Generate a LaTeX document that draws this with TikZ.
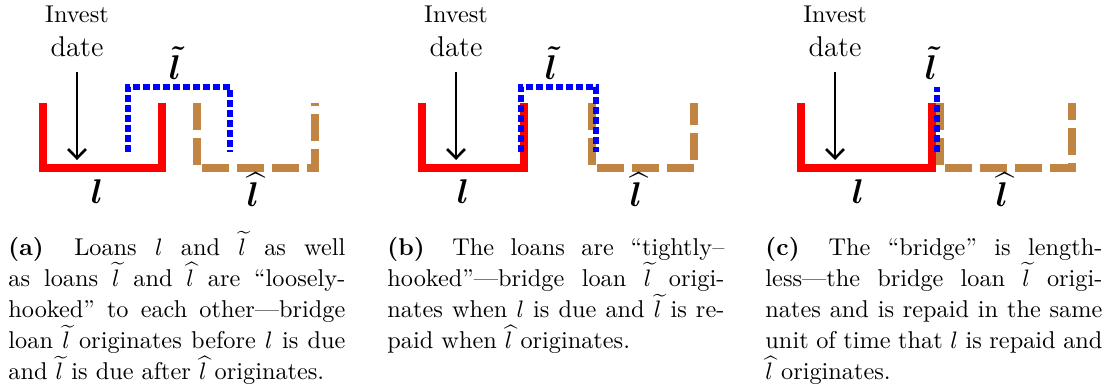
\documentclass[tikz,border=0pt]{standalone}
\usepackage{amsmath}
\usepackage{bm}
\usetikzlibrary{arrows.meta}
\definecolor{loanbrown}{RGB}{192,133,66}
\newcommand{\investlbl}{Invest\\{\fontsize{12}{14}\selectfont date}}

\begin{document}
\begin{tikzpicture}[
    x=0.42pt, y=-0.42pt,
    redloan/.style={draw=red, line width=3.4pt, miter limit=10},
    nextloan/.style={draw=loanbrown, line width=3.1pt, dash pattern=on 11.3pt off 3.4pt},
    bridge/.style={draw=blue, line width=2.9pt, dash pattern=on 2.9pt off 1.3pt},
    arr/.style={-{Straight Barb[length=3.8pt,width=7.5pt]}, line width=1.1pt},
    invest/.style={anchor=south, align=center, inner xsep=0pt, inner ysep=6.3pt,
                   font=\fontsize{10.2}{14.3}\selectfont},
    lbl/.style={font=\Large, inner sep=0pt},
    capt/.style={anchor=base west, text width=141.5pt, align=justify, inner sep=0pt,
                 font=\fontsize{10.2}{13.1}\selectfont}
]
\useasboundingbox (0,0) rectangle (1111,391);

% (a) loosely hooked
\draw[redloan]  (43,103) -- (43,168) -- (162,168) -- (162,103);
\draw[nextloan] (197,103) -- (197,168) -- (315,168) -- (315,103);
\draw[bridge]   (128,152) -- (128,87) -- (230,87) -- (230,152);
\node[invest] (inva) at (77,72) {\investlbl};
\coordinate (tipa) at (77,160);
\draw[arr] (inva) -- (tipa);
\node[lbl] (lta) at (175,63)  {$\bm{\tilde{l}}$};
\node[lbl] (la)  at (97,192)  {$\bm{l}$};
\node[lbl] (lha) at (253,190) {$\bm{\widehat{l}}$};
\node[capt] (capa) at (8,255) {\textbf{(a)}\hspace{.5em plus .3em}Loans $l$ and $\widetilde{l}$ as well\linebreak
  as loans $\widetilde{l}$ and $\widehat{l}$ are ``loosely-\linebreak
  hooked'' to each other---bridge\linebreak
  loan $\widetilde{l}$ originates before $l$ is due\linebreak
  and $\widetilde{l}$ is due after $\widehat{l}$ originates.};

% (b) tightly hooked
\draw[redloan]  (422,103) -- (422,168) -- (524,168) -- (524,103);
\draw[nextloan] (592,103) -- (592,168) -- (694,168) -- (694,103);
\draw[bridge]   (521,152) -- (521,87) -- (596,87) -- (596,152);
\node[invest] (invb) at (456,72) {\investlbl};
\coordinate (tipb) at (456,160);
\draw[arr] (invb) -- (tipb);
\node[lbl] (ltb) at (551,63)  {$\bm{\tilde{l}}$};
\node[lbl] (lb)  at (463,192) {$\bm{l}$};
\node[lbl] (lhb) at (636,190) {$\bm{\widehat{l}}$};
\node[capt] (capb) at (387,255) {\textbf{(b)}\hspace{.5em plus .3em}The loans are ``tightly--\linebreak
  hooked''---bridge loan $\widetilde{l}$ origi-\linebreak
  nates when $l$ is due and $\widetilde{l}$ is re-\linebreak
  paid when $\widehat{l}$ originates.};

% (c) lengthless bridge
\draw[redloan]  (801,103) -- (801,168) -- (932,168) -- (932,103);
\draw[nextloan] (940,103) -- (940,168) -- (1072,168) -- (1072,103);
\draw[bridge]   (937,152) -- (937,87);
\node[invest] (invc) at (835,72) {\investlbl};
\coordinate (tipc) at (835,160);
\draw[arr] (invc) -- (tipc);
\node[lbl] (ltc) at (931,63)  {$\bm{\tilde{l}}$};
\node[lbl] (lc)  at (858,192) {$\bm{l}$};
\node[lbl] (lhc) at (1002,190) {$\bm{\widehat{l}}$};
\node[capt] (capc) at (765,255) {\textbf{(c)}\hspace{.5em plus .3em}The ``bridge'' is length-\linebreak
  less---the bridge loan $\widetilde{l}$ origi-\linebreak
  nates and is repaid in the same\linebreak
  unit of time that $l$ is repaid and\linebreak
  $\widehat{l}$ originates.};
\end{tikzpicture}
\end{document}
